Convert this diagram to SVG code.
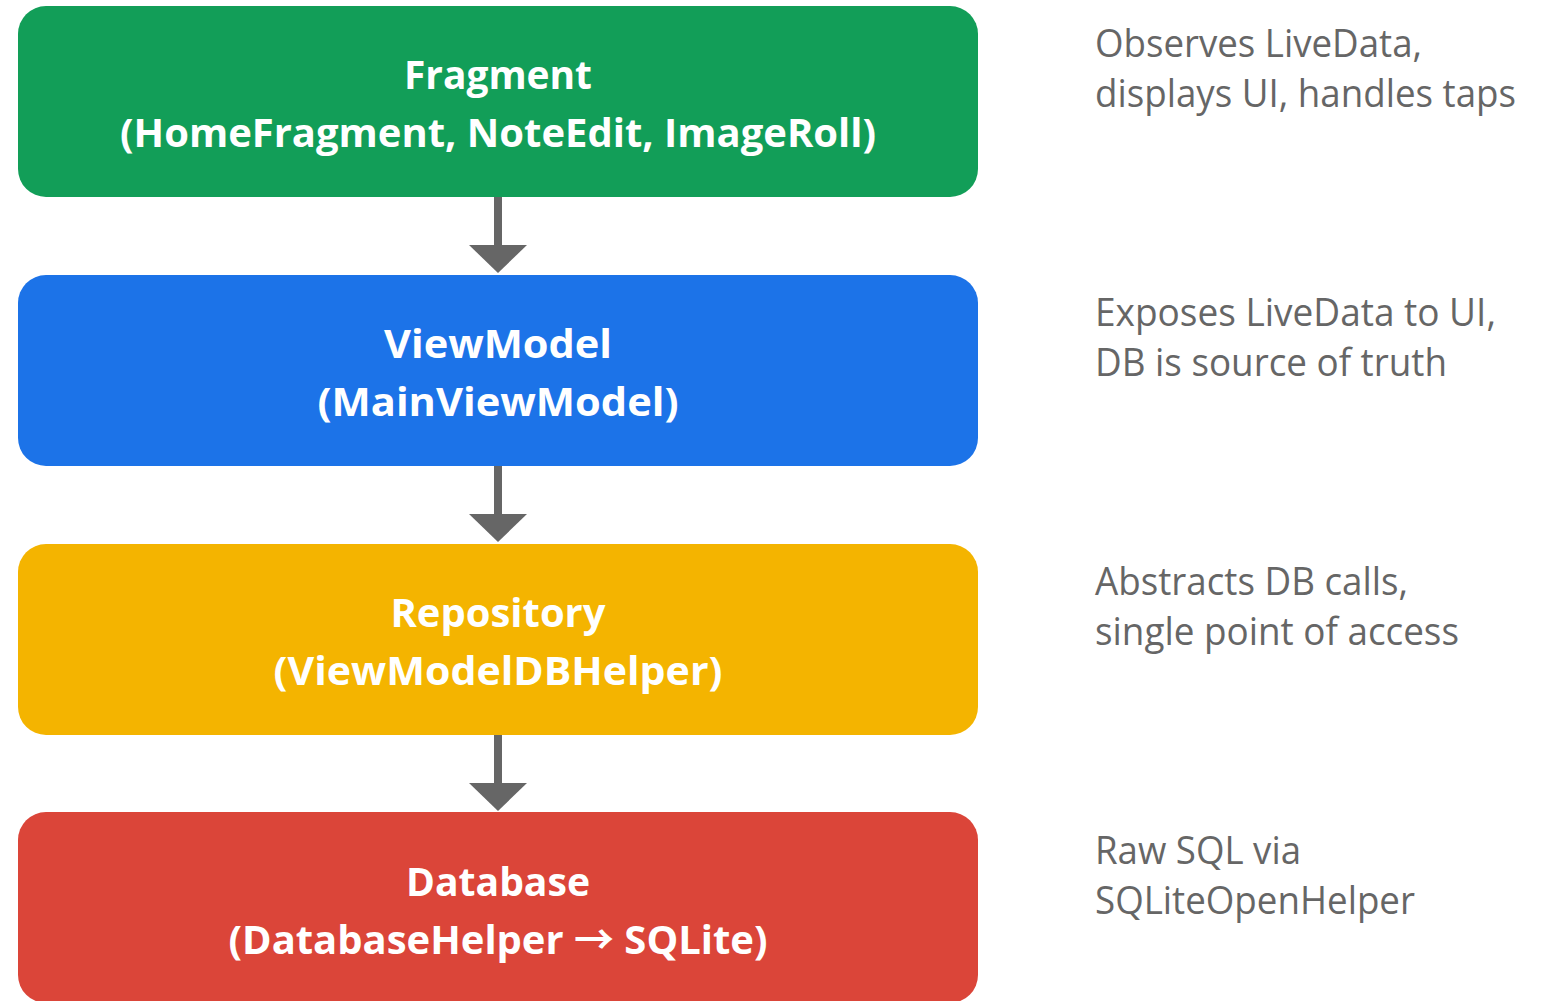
<svg xmlns="http://www.w3.org/2000/svg" width="1543" height="1001" viewBox="0 0 1543 1001">
  <style>
    .box { stroke: none; }
    .title { font-family: "Open Sans", "Noto Sans", "Liberation Sans", sans-serif; font-weight: 700; font-size: 40px; fill: #ffffff; text-anchor: middle; }
    .note { font-family: "Open Sans", "Noto Sans", "Liberation Sans", sans-serif; font-weight: 400; font-size: 38px; fill: #666666; }
    .shaft { fill: #666666; }
    .arrowglyph { font-family: "Noto Sans CJK SC", "Open Sans", sans-serif; font-size: 40px; font-weight: 700; }
  </style>
  <rect width="1543" height="1001" fill="#ffffff"/>

  <!-- layer boxes -->
  <g id="fragment">
    <rect class="box" x="18" y="6" width="960" height="191" rx="28" fill="#129E58"/>
    <text class="title" x="498" y="89" textLength="188" lengthAdjust="spacingAndGlyphs">Fragment</text>
    <text class="title" x="498" y="147" textLength="756" lengthAdjust="spacingAndGlyphs">(HomeFragment, NoteEdit, ImageRoll)</text>
  </g>
  <g id="viewmodel">
    <rect class="box" x="18" y="275" width="960" height="191" rx="28" fill="#1C73E8"/>
    <text class="title" x="498" y="358" textLength="228" lengthAdjust="spacingAndGlyphs">ViewModel</text>
    <text class="title" x="498" y="416" textLength="361" lengthAdjust="spacingAndGlyphs">(MainViewModel)</text>
  </g>
  <g id="repository">
    <rect class="box" x="18" y="544" width="960" height="191" rx="28" fill="#F4B400"/>
    <text class="title" x="498" y="627" textLength="215" lengthAdjust="spacingAndGlyphs">Repository</text>
    <text class="title" x="498" y="685" textLength="449" lengthAdjust="spacingAndGlyphs">(ViewModelDBHelper)</text>
  </g>
  <g id="database">
    <rect class="box" x="18" y="812" width="960" height="191" rx="28" fill="#DB4539"/>
    <text class="title" x="498" y="896" textLength="184" lengthAdjust="spacingAndGlyphs">Database</text>
    <text class="title" x="498" y="954" textLength="539" lengthAdjust="spacingAndGlyphs">(DatabaseHelper <tspan class="arrowglyph">→</tspan> SQLite)</text>
  </g>

  <!-- connectors -->
  <g id="connectors">
    <rect class="shaft" x="494" y="197" width="8" height="49"/>
    <polygon class="shaft" points="469,245 527,245 498,273"/>
    <rect class="shaft" x="494" y="466" width="8" height="49"/>
    <polygon class="shaft" points="469,514 527,514 498,542"/>
    <rect class="shaft" x="494" y="735" width="8" height="49"/>
    <polygon class="shaft" points="469,783 527,783 498,811"/>
  </g>

  <!-- side notes -->
  <g id="notes">
    <text class="note" x="1095" y="57" textLength="327" lengthAdjust="spacingAndGlyphs">Observes LiveData,</text>
    <text class="note" x="1095" y="107" textLength="421" lengthAdjust="spacingAndGlyphs">displays UI, handles taps</text>
    <text class="note" x="1095" y="326" textLength="401" lengthAdjust="spacingAndGlyphs">Exposes LiveData to UI,</text>
    <text class="note" x="1095" y="376" textLength="352" lengthAdjust="spacingAndGlyphs">DB is source of truth</text>
    <text class="note" x="1095" y="595" textLength="313" lengthAdjust="spacingAndGlyphs">Abstracts DB calls,</text>
    <text class="note" x="1095" y="645" textLength="364" lengthAdjust="spacingAndGlyphs">single point of access</text>
    <text class="note" x="1095" y="864" textLength="206" lengthAdjust="spacingAndGlyphs">Raw SQL via</text>
    <text class="note" x="1095" y="914" textLength="320" lengthAdjust="spacingAndGlyphs">SQLiteOpenHelper</text>
  </g>
</svg>
